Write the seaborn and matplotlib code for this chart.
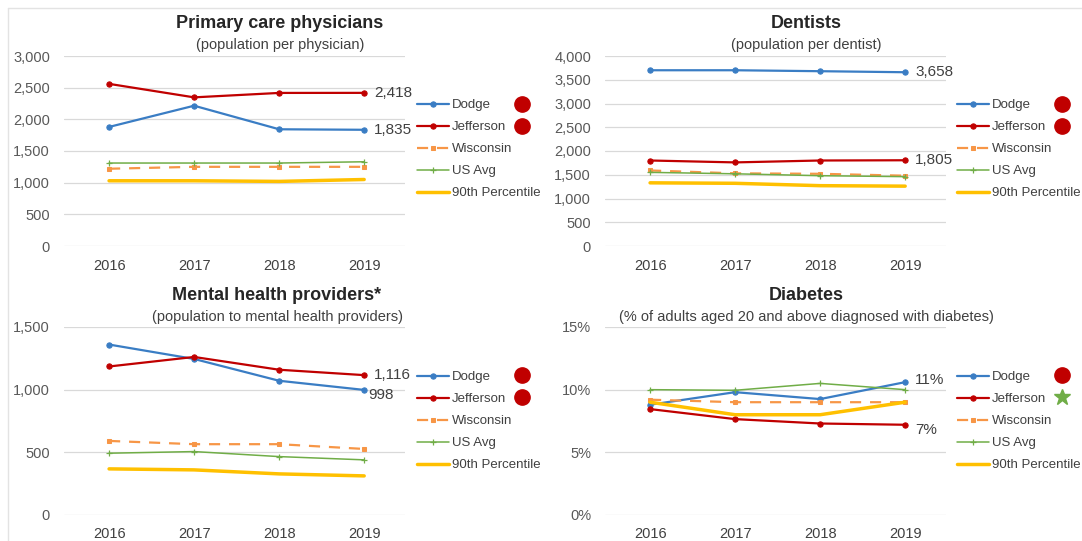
import matplotlib
matplotlib.use("Agg")
import matplotlib.pyplot as plt
from matplotlib.lines import Line2D
from matplotlib.ticker import FuncFormatter, MultipleLocator
import pandas as pd
import seaborn as sns

# ---- data -------------------------------------------------------------
years = [2016, 2017, 2018, 2019]
series_names = ["Dodge", "Jefferson", "Wisconsin", "US Avg", "90th Percentile"]

pcp_dodge = [1880, 2215, 1843, 1835]
pcp_jefferson = [2560, 2347, 2417, 2418]
pcp_wisconsin = [1220, 1250, 1250, 1250]
pcp_us_avg = [1310, 1310, 1310, 1330]
pcp_p90 = [1030, 1030, 1020, 1050]

den_dodge = [3700, 3700, 3680, 3658]
den_jefferson = [1800, 1760, 1800, 1805]
den_wisconsin = [1590, 1530, 1520, 1480]
den_us_avg = [1550, 1520, 1480, 1460]
den_p90 = [1330, 1320, 1270, 1260]

mh_dodge = [1360, 1245, 1071, 998]
mh_jefferson = [1185, 1261, 1159, 1116]
mh_wisconsin = [591, 565, 565, 527]
mh_us_avg = [493, 506, 466, 440]
mh_p90 = [368, 360, 328, 312]

dia_dodge = [8.8, 9.8, 9.25, 10.6]
dia_jefferson = [8.45, 7.65, 7.3, 7.2]
dia_wisconsin = [9.2, 9.0, 9.0, 9.0]
dia_us_avg = [10.0, 9.95, 10.5, 10.0]
dia_p90 = [9.0, 8.0, 8.0, 9.0]

titles = ["Primary care physicians", "Dentists",
          "Mental health providers*", "Diabetes"]
subtitles = ["(population per physician)", "(population per dentist)",
             "(population to mental health providers)",
             "(% of adults aged 20 and above diagnosed with diabetes)"]

# ---- style ------------------------------------------------------------
sns.set_theme(style="white")
plt.rcParams["font.family"] = ["Liberation Sans", "DejaVu Sans"]

W, H = 1082, 541
fig = plt.figure(figsize=(W / 100, H / 100), dpi=100)

line_styles = {
    "Dodge": dict(color="#3A7DC4", linewidth=1.6, linestyle="-", marker="o",
                  markersize=3.8),
    "Jefferson": dict(color="#C00000", linewidth=1.6, linestyle="-", marker="o",
                      markersize=3.8),
    "Wisconsin": dict(color="#F79646", linewidth=1.6, linestyle=(0, (5, 4)),
                      marker="s", markersize=3.5),
    "US Avg": dict(color="#70AD47", linewidth=1.1, linestyle="-", marker="+",
                   markersize=4.5, markeredgewidth=0.9),
    "90th Percentile": dict(color="#FFC000", linewidth=2.5, linestyle="-"),
}

TICK_COLOR = "#595959"
TEXT_COLOR = "#404040"


def px_axes(x0, y0, x1, y1):
    return fig.add_axes([x0 / W, 1 - y1 / H, (x1 - x0) / W, (y1 - y0) / H])


def thousands(v, _):
    return f"{v:,.0f}"


def percent(v, _):
    return f"{v:.0f}%"


def draw_panel(ax, values, ymax, ystep, fmt, title, subtitle, title_x,
               title_y, labels, legend_xy, badges):
    frames = []
    for name, vals in zip(series_names, values):
        frames.append(pd.DataFrame({"Year": years, "Value": vals,
                                    "Series": name}))
    df = pd.concat(frames, ignore_index=True)

    for name in series_names:
        st = dict(line_styles[name])
        if "marker" in st:
            st["markeredgecolor"] = st["color"]
            st["markerfacecolor"] = st["color"]
        sns.lineplot(data=df[df["Series"] == name], x="Year", y="Value",
                     ax=ax, errorbar=None, legend=False, label=name,
                     solid_capstyle="round", **st)

    ax.set_xlim(2015.47, 2019.48)
    ax.set_ylim(0, ymax)
    ax.yaxis.set_major_locator(MultipleLocator(ystep))
    ax.yaxis.set_major_formatter(FuncFormatter(fmt))
    ax.set_xticks(years)
    ax.set_xticklabels([str(y) for y in years])
    ax.set_xlabel("")
    ax.set_ylabel("")
    ax.grid(axis="y", color="#D9D9D9", linewidth=0.9)
    ax.set_axisbelow(True)
    for s in ax.spines.values():
        s.set_visible(False)
    ax.tick_params(axis="y", length=0, pad=10, labelsize=10.5,
                   labelcolor=TICK_COLOR)
    ax.tick_params(axis="x", length=0, pad=9, labelsize=10.5,
                   labelcolor=TEXT_COLOR)

    # end-of-line value labels
    for series_idx, text_fmt, dx, dy in labels:
        v = values[series_idx][-1]
        ax.annotate(text_fmt(v), xy=(years[-1], v), xytext=(dx, dy),
                    textcoords="offset pixels", ha="left", va="center",
                    fontsize=11, color=TEXT_COLOR)

    # titles
    fig.text(title_x / W, 1 - title_y / H, title, ha="center", va="center",
             fontsize=13, fontweight="bold", color="#262626")
    fig.text(title_x / W, 1 - (title_y + 21) / H, subtitle, ha="center",
             va="center", fontsize=10.5, color=TEXT_COLOR)

    # legend
    handles, labs = ax.get_legend_handles_labels()
    lx, ly = legend_xy
    leg = ax.legend(handles, labs, loc="upper left",
                    bbox_to_anchor=(lx / W, 1 - ly / H),
                    bbox_transform=fig.transFigure, frameon=False,
                    fontsize=9.5, handlelength=2.4, handletextpad=0.25,
                    borderpad=0, borderaxespad=0, labelspacing=0.74)
    for t in leg.get_texts():
        t.set_color(TEXT_COLOR)

    # status badges next to the county entries
    for bx, by, kind, color in badges:
        marker = "o" if kind == "circle" else "*"
        size = 11 if kind == "circle" else 12
        fig.add_artist(Line2D([bx / W], [1 - by / H], marker=marker,
                              markersize=size, color=color, linestyle="none",
                              transform=fig.transFigure))


num_fmt = lambda v: f"{v:,.0f}"
pct_fmt = lambda v: f"{v:.0f}%"

ax1 = px_axes(64, 56, 405, 246)
draw_panel(ax1, [pcp_dodge, pcp_jefferson, pcp_wisconsin, pcp_us_avg, pcp_p90],
           3000, 500, thousands, titles[0], subtitles[0], 280, 24,
           [(1, num_fmt, 10, 0), (0, num_fmt, 10, 0)],
           (417, 99),
           [(522, 104, "circle", "#C00000"), (522, 126, "circle", "#C00000")])

ax2 = px_axes(605, 56, 946, 246)
draw_panel(ax2, [den_dodge, den_jefferson, den_wisconsin, den_us_avg, den_p90],
           4000, 500, thousands, titles[1], subtitles[1], 806, 24,
           [(0, num_fmt, 10, 0), (1, num_fmt, 10, 0)],
           (957, 99),
           [(1062, 104, "circle", "#C00000"), (1062, 126, "circle", "#C00000")])

ax3 = px_axes(64, 327, 405, 515)
draw_panel(ax3, [mh_dodge, mh_jefferson, mh_wisconsin, mh_us_avg, mh_p90],
           1500, 500, thousands, titles[2], subtitles[2], 277, 296,
           [(1, num_fmt, 10, 0), (0, num_fmt, 4, -5)],
           (417, 371),
           [(522, 375, "circle", "#C00000"), (522, 397, "circle", "#C00000")])

ax4 = px_axes(605, 327, 946, 515)
draw_panel(ax4, [dia_dodge, dia_jefferson, dia_wisconsin, dia_us_avg, dia_p90],
           15, 5, percent, titles[3], subtitles[3], 806, 296,
           [(0, pct_fmt, 10, 2), (1, pct_fmt, 10, -5)],
           (957, 371),
           [(1062, 375, "circle", "#C00000"), (1062, 397, "star", "#70AD47")])

# light frame lines around the chart area
fig.add_artist(Line2D([8 / W, 1], [1 - 8 / H, 1 - 8 / H], color="#E3E3E3",
                      linewidth=1, transform=fig.transFigure))
fig.add_artist(Line2D([8 / W, 8 / W], [0, 1 - 8 / H], color="#E3E3E3",
                      linewidth=1, transform=fig.transFigure))

fig.savefig("out.png", dpi=100, facecolor="white")
